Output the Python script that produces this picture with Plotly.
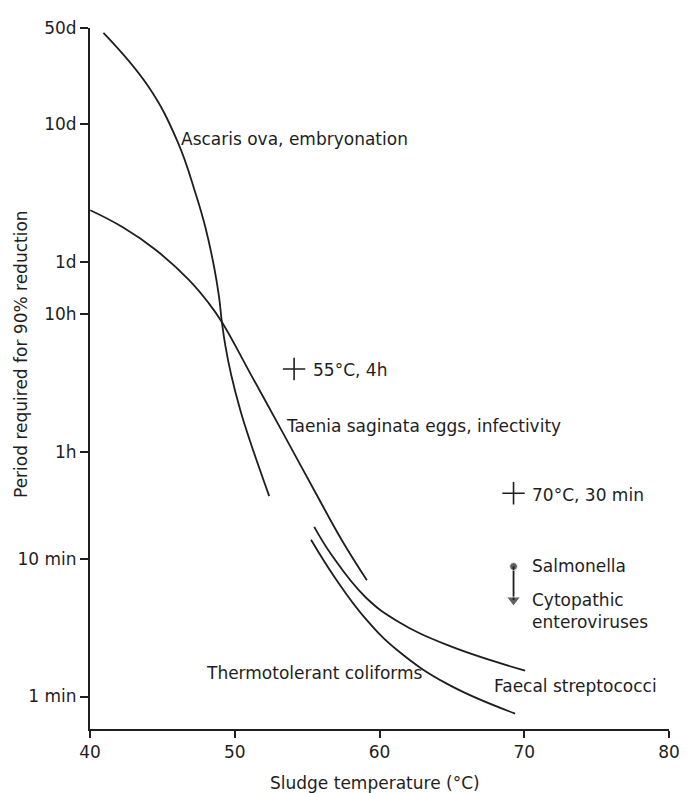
import plotly.graph_objects as go

# ---- data (x: sludge temperature in °C, y: period in minutes) ----
ascaris_x = [40.93, 44.01, 46.05, 47.30, 47.97, 48.57, 48.91, 49.11, 49.35, 49.76, 50.38, 51.06, 52.38]
ascaris_y = [66500, 27300, 10790, 4500, 2570, 1328, 810, 527, 355, 216, 121, 71.7, 28.6]

taenia_x = [40.02, 42.27, 44.55, 46.83, 48.19, 49.11, 51.06, 53.31, 55.61, 57.43, 59.13]
taenia_y = [3420, 2570, 1758, 1067, 725, 527, 224, 83.1, 29.9, 13.5, 7.0]

faecal_x = [55.49, 56.74, 59.02, 61.30, 64.71, 70.06]
faecal_y = [17.1, 10.5, 5.29, 3.50, 2.36, 1.54]

thermo_x = [55.27, 56.98, 59.02, 61.30, 64.71, 69.37]
thermo_y = [13.8, 7.16, 3.70, 2.14, 1.23, 0.752]

point_x = [54.1, 69.26]
point_y = [240, 30]
point_labels = ["55°C, 4h", "70°C, 30 min"]

salm_x = [69.26, 69.26]
salm_y = [8.82, 5.03]

tick_vals = [1, 10, 60, 600, 1440, 14400, 72000]
tick_text = ["1 min", "10 min", "1h", "10h", "1d", "10d", "50d"]
x_ticks = [40, 50, 60, 70, 80]

FONT = "DejaVu Sans"
INK = "#1e1e1e"

fig = go.Figure()
for xs, ys in [(ascaris_x, ascaris_y), (taenia_x, taenia_y), (faecal_x, faecal_y), (thermo_x, thermo_y)]:
    fig.add_trace(go.Scatter(x=xs, y=ys, mode="lines",
                             line=dict(color=INK, width=1.8, shape="spline", smoothing=1.2),
                             hoverinfo="skip", showlegend=False))

fig.add_trace(go.Scatter(x=point_x, y=point_y, mode="markers",
                         marker=dict(symbol="cross-thin", size=16, line=dict(color=INK, width=1.6)),
                         showlegend=False, hoverinfo="skip"))

fig.add_trace(go.Scatter(x=salm_x, y=salm_y, mode="lines+markers",
                         line=dict(color=INK, width=1.8),
                         marker=dict(symbol=["circle", "triangle-down"], size=[8, 12], color=INK),
                         showlegend=False, hoverinfo="skip"))

tf = dict(family=FONT, size=17, color=INK)
labels = [
    ("Ascaris ova, embryonation", 46.14, 4.054),
    ("Taenia saginata eggs, infectivity", 53.38, 1.965),
    (point_labels[0], 55.27, 2.371),
    (point_labels[1], 70.39, 1.4635),
    ("Salmonella", 70.37, 0.9456),
    ("Cytopathic<br>enteroviruses", 70.37, 0.623),
    ("Thermotolerant coliforms", 47.85, 0.172),
    ("Faecal streptococci", 67.78, 0.0788),
]
for t, x, ly in labels:
    fig.add_annotation(text=t, x=x, y=ly, xref="x", yref="y", showarrow=False,
                       xanchor="left", yanchor="middle", align="left", font=tf)

fig.add_annotation(text="Sludge temperature (°C)", x=0.4915, y=-0.0774, xref="paper", yref="paper",
                   showarrow=False, xanchor="center", yanchor="middle", font=tf)
fig.add_annotation(text="Period required for 90% reduction", x=-0.118, y=0.5345, xref="paper", yref="paper",
                   showarrow=False, xanchor="center", yanchor="middle", textangle=-90, font=tf)

fig.update_xaxes(range=[40, 80], tickvals=x_ticks, ticks="outside", ticklen=7, tickwidth=1.5,
                 tickcolor=INK, showline=True, linecolor=INK, linewidth=2, showgrid=False,
                 zeroline=False, tickfont=tf)
fig.update_yaxes(type="log", range=[-0.236, 4.8585], tickvals=tick_vals, ticktext=tick_text,
                 ticks="outside", ticklen=8, tickwidth=1.5, tickcolor=INK, showline=True,
                 linecolor=INK, linewidth=2, showgrid=False, zeroline=False, tickfont=tf)

# page body adds an 8px offset; size the figure to fit the 690x793 window
fig.update_layout(width=682, height=785, margin=dict(l=80, r=16, t=10, b=64),
                  plot_bgcolor="white", paper_bgcolor="white", font=tf)

fig.write_html("out.html")
